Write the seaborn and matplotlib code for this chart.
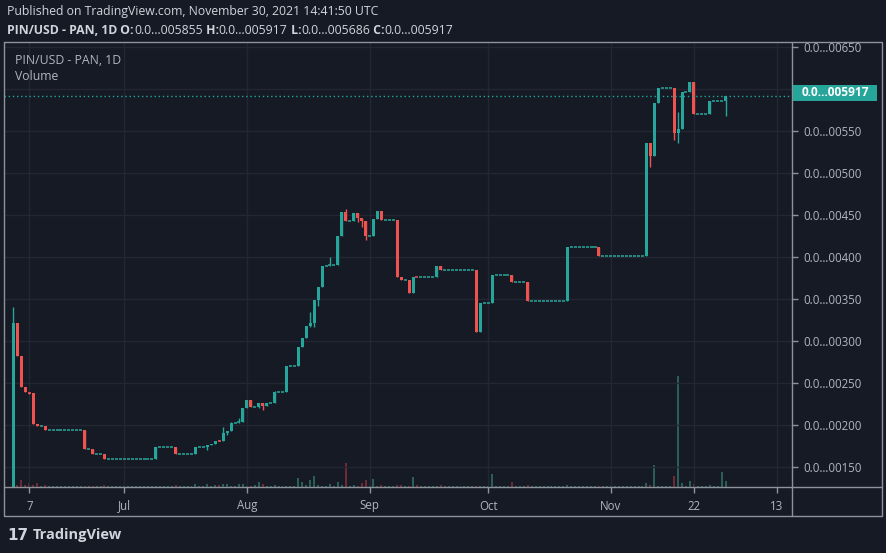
import numpy as np
import pandas as pd
import matplotlib
matplotlib.use('Agg')
import matplotlib.pyplot as plt
import matplotlib.dates as mdates
from matplotlib.patches import Rectangle
from matplotlib.lines import Line2D
import seaborn as sns

# figure size in pixels and colours
W, H = 886, 553
bg = '#161a25'
grid_c = '#232734'
frame_c = '#8f929b'
text_c = '#b2b5be'
head_c = '#d1d4dc'
up_c = '#26a69a'
down_c = '#ef5350'

# daily candles, 3 Jun - 30 Nov 2021
dates = pd.date_range('2021-06-03', '2021-11-30', freq='D')

close_ = [
    0.00322, 0.00283, 0.00246, 0.00240, 0.00239, 0.00201, 0.00199, 0.00199, 0.00194, 0.00194,
    0.00194, 0.00194, 0.00194, 0.00194, 0.00194, 0.00194, 0.00194, 0.00194, 0.00172, 0.00172,
    0.00166, 0.00166, 0.00166, 0.00160, 0.00160, 0.00160, 0.00160, 0.00160, 0.00160, 0.00160,
    0.00160, 0.00160, 0.00160, 0.00160, 0.00160, 0.00160, 0.00174, 0.00174, 0.00174, 0.00174,
    0.00174, 0.00166, 0.00166, 0.00166, 0.00166, 0.00166, 0.00174, 0.00174, 0.00174, 0.00176,
    0.00178, 0.00181, 0.00181, 0.00191, 0.00193, 0.00203, 0.00203, 0.00204, 0.00221, 0.00230,
    0.00222, 0.00222, 0.00227, 0.00223, 0.00227, 0.00227, 0.00240, 0.00240, 0.00240, 0.00271,
    0.00271, 0.00271, 0.00293, 0.00304, 0.00318, 0.00322, 0.00349, 0.00365, 0.00390, 0.00390,
    0.00391, 0.00391, 0.00425, 0.00454, 0.00443, 0.00443, 0.00453, 0.00447, 0.00443, 0.00425,
    0.00425, 0.00446, 0.00455, 0.00444, 0.00444, 0.00444, 0.00444, 0.00376, 0.00373, 0.00373,
    0.00358, 0.00376, 0.00376, 0.00376, 0.00376, 0.00376, 0.00376, 0.00390, 0.00385, 0.00385,
    0.00385, 0.00385, 0.00385, 0.00385, 0.00385, 0.00385, 0.00385, 0.00311, 0.00345, 0.00345,
    0.00345, 0.00379, 0.00379, 0.00379, 0.00379, 0.00379, 0.00371, 0.00371, 0.00371, 0.00371,
    0.00348, 0.00348, 0.00348, 0.00348, 0.00348, 0.00348, 0.00348, 0.00348, 0.00348, 0.00348,
    0.00412, 0.00412, 0.00412, 0.00412, 0.00412, 0.00412, 0.00412, 0.00412, 0.00402, 0.00402,
    0.00402, 0.00402, 0.00402, 0.00402, 0.00402, 0.00402, 0.00402, 0.00402, 0.00402, 0.00402,
    0.00536, 0.00520, 0.00584, 0.00601, 0.00601, 0.00601, 0.00601, 0.00548, 0.00553, 0.00597,
    0.00597, 0.00609, 0.00570, 0.00570, 0.00570, 0.00570, 0.005855, 0.005855, 0.005855, 0.005855,
    0.005917,
]

# opens follow the previous close except on these days
gap_open = {0: 0.00110, 52: 0.00182, 102: 0.00377}
# wicks beyond the body
wick_high = {0: 0.00341, 53: 0.00198, 55: 0.00204, 57: 0.00209, 66: 0.00241, 75: 0.00335,
             80: 0.00400, 84: 0.00458, 168: 0.00573, 180: 0.005917}
wick_low = {0: 0.00110, 4: 0.00237, 49: 0.00171, 54: 0.00189, 62: 0.00221, 63: 0.00218,
            75: 0.00317, 76: 0.00317, 77: 0.00342, 87: 0.00442, 88: 0.00436, 89: 0.00421,
            161: 0.00508, 167: 0.00540, 168: 0.00536, 180: 0.005686}

# volume, relative units
volume = [
    6, 2, 7, 2, 4, 2, 4, 1, 2, 1,
    1, 1, 1, 1, 1, 1, 1, 1, 1, 1,
    1, 1, 1, 2, 1, 1, 1, 1, 1, 1,
    1, 1, 1, 1, 1, 1, 1, 1, 1, 1,
    1, 2, 1, 1, 1, 1, 3, 1, 1, 3,
    1, 2, 2, 3, 3, 1, 1, 3, 3, 1,
    1, 2, 5, 3, 1, 1, 2, 1, 1, 1,
    1, 1, 9, 5, 2, 7, 11, 2, 1, 1,
    3, 1, 5, 2, 24, 1, 2, 1, 4, 7,
    1, 8, 1, 2, 1, 1, 1, 2, 2, 1,
    1, 10, 2, 1, 1, 1, 1, 1, 2, 1,
    1, 1, 1, 1, 1, 1, 1, 1, 1, 1,
    1, 13, 1, 1, 1, 1, 5, 1, 1, 1,
    2, 1, 1, 1, 1, 1, 1, 1, 1, 1,
    2, 1, 1, 1, 1, 1, 1, 1, 1, 1,
    1, 1, 1, 1, 1, 1, 1, 1, 1, 1,
    4, 2, 22, 1, 1, 1, 1, 11, 111, 4,
    1, 6, 3, 1, 1, 1, 2, 1, 1, 15,
    6,
]

tick_dates = ['2021-06-07', '2021-07-01', '2021-08-01', '2021-09-01',
              '2021-10-01', '2021-11-01', '2021-11-22', '2021-12-13']
tick_labels = ['7', 'Jul', 'Aug', 'Sep', 'Oct', 'Nov', '22', '13']
price_ticks = [0.0015, 0.0020, 0.0025, 0.0030, 0.0035, 0.0040, 0.0045, 0.0050,
               0.0055, 0.0060, 0.0065]
last_price = 0.005917
header_ohlc = ['0.0…005855', '0.0…005917', '0.0…005686', '0.0…005917']

# build the frame
df = pd.DataFrame({'date': dates, 'close': close_, 'volume': volume})
df['open'] = df['close'].shift(1)
for d, v in gap_open.items():
    df.loc[d, 'open'] = v
df['high'] = df[['open', 'close']].max(axis=1)
df['low'] = df[['open', 'close']].min(axis=1)
for d, v in wick_high.items():
    df.loc[d, 'high'] = v
for d, v in wick_low.items():
    df.loc[d, 'low'] = v
df['x'] = mdates.date2num(df['date'])
df['up'] = df['close'] >= df['open']
df['color'] = np.where(df['up'], up_c, down_c)
df['flat'] = (df['close'] - df['open']).abs() < 1.4e-5

sns.set_theme(style='darkgrid', rc={
    'axes.facecolor': bg, 'figure.facecolor': bg, 'grid.color': grid_c,
    'grid.linewidth': 1.0, 'axes.edgecolor': bg,
})
plt.rcParams['font.family'] = ['Open Sans', 'DejaVu Sans']

def fx(px):
    return px / W

def fy(py):
    return 1 - py / H

fig = plt.figure(figsize=(W / 100, H / 100), dpi=100)
ax = fig.add_axes([fx(4), fy(487), fx(788), 445 / H])
axv = ax.twinx()
ax.set_zorder(2)
ax.patch.set_visible(False)
axv.set_zorder(1)
axv.set_facecolor(bg)

# volume pane
vol_col = np.where(df['up'], '#2b5e57', '#6e2b36')
axv.bar(df['x'], df['volume'], width=0.5, color=vol_col, linewidth=0)
axv.set_ylim(0, 445)
axv.set_yticks([])
axv.grid(False)
for s in axv.spines.values():
    s.set_visible(False)

# candles
ax.vlines(df['x'], df['low'], df['high'], colors=df['color'], linewidth=1)
body = df[~df['flat']]
ax.bar(body['x'], (body['close'] - body['open']).abs(),
       bottom=body[['open', 'close']].min(axis=1), width=0.75,
       color=body['color'], linewidth=0)
flat = df[df['flat']]
ax.hlines(flat['close'], flat['x'] - 0.38, flat['x'] + 0.38, colors=flat['color'], linewidth=1.1)

ax.axhline(last_price, color=up_c, linestyle=(0, (1, 2)), linewidth=1)

x0 = mdates.date2num(pd.Timestamp('2021-06-03'))
ax.set_xlim(x0 - 2.4, x0 + 196.8)
ax.set_ylim(0.0012655, 0.006563)

# the 0.00600 label sits under the last-price box, so it is left blank
ylabels = ['0.0…{:05d}'.format(int(round(p * 1e5))) for p in price_ticks]
ylabels[price_ticks.index(0.0060)] = ''
ax.yaxis.tick_right()
ax.set_yticks(price_ticks)
ax.set_yticklabels(ylabels)
ax.set_xticks(mdates.date2num(pd.to_datetime(tick_dates)))
ax.set_xticklabels(tick_labels)
ax.tick_params(axis='both', length=4, width=1, color=frame_c, labelcolor=text_c,
               labelsize=8.3, pad=4)
ax.tick_params(axis='y', right=True, left=False)
ax.tick_params(axis='x', bottom=True, pad=5)
ax.grid(True, color=grid_c, linewidth=1)
for s in ax.spines.values():
    s.set_visible(False)

# outer frame and separators
for xs, ys in [([4, 882, 882, 4, 4], [42, 42, 516, 516, 42]),
               ([792, 792], [42, 516]),
               ([4, 882], [487, 487])]:
    fig.add_artist(Line2D([fx(v) for v in xs], [fy(v) for v in ys],
                          transform=fig.transFigure, color=frame_c, linewidth=1, zorder=10))

# last price label
fig.add_artist(Rectangle((fx(793), fy(101)), 84 / W, 16 / H, transform=fig.transFigure,
                         facecolor=up_c, edgecolor='none', zorder=11))
fig.text(fx(835), fy(93), '0.0…005917', ha='center', va='center', color='white',
         fontsize=8.6, fontweight='bold', zorder=12)

# header
fig.text(fx(7), fy(12), 'Published on TradingView.com, November 30, 2021 14:41:50 UTC',
         color=head_c, fontsize=8.8, va='center')
renderer = fig.canvas.get_renderer()
parts = [('PIN/USD - PAN, 1D', 'bold'), (' O:', 'bold'), (header_ohlc[0], 'normal'),
         (' H:', 'bold'), (header_ohlc[1], 'normal'), (' L:', 'bold'), (header_ohlc[2], 'normal'),
         (' C:', 'bold'), (header_ohlc[3], 'normal')]
xpos = 7
for txt, wt in parts:
    t = fig.text(fx(xpos), fy(30), txt, color=head_c, fontsize=8.8, fontweight=wt, va='center')
    xpos += t.get_window_extent(renderer).width

fig.text(fx(15), fy(61), 'PIN/USD - PAN, 1D', color=text_c, fontsize=8.8, va='center', zorder=12)
fig.text(fx(15), fy(77), 'Volume', color=text_c, fontsize=8.8, va='center', zorder=12)

# footer logo
fig.text(fx(7), fy(535), '17', color=head_c, fontsize=11, fontweight='heavy', va='center',
         family='DejaVu Sans')
fig.text(fx(33), fy(535), 'TradingView', color=head_c, fontsize=10.5, fontweight='bold',
         va='center')

fig.savefig('out.png', dpi=100, facecolor=bg)
